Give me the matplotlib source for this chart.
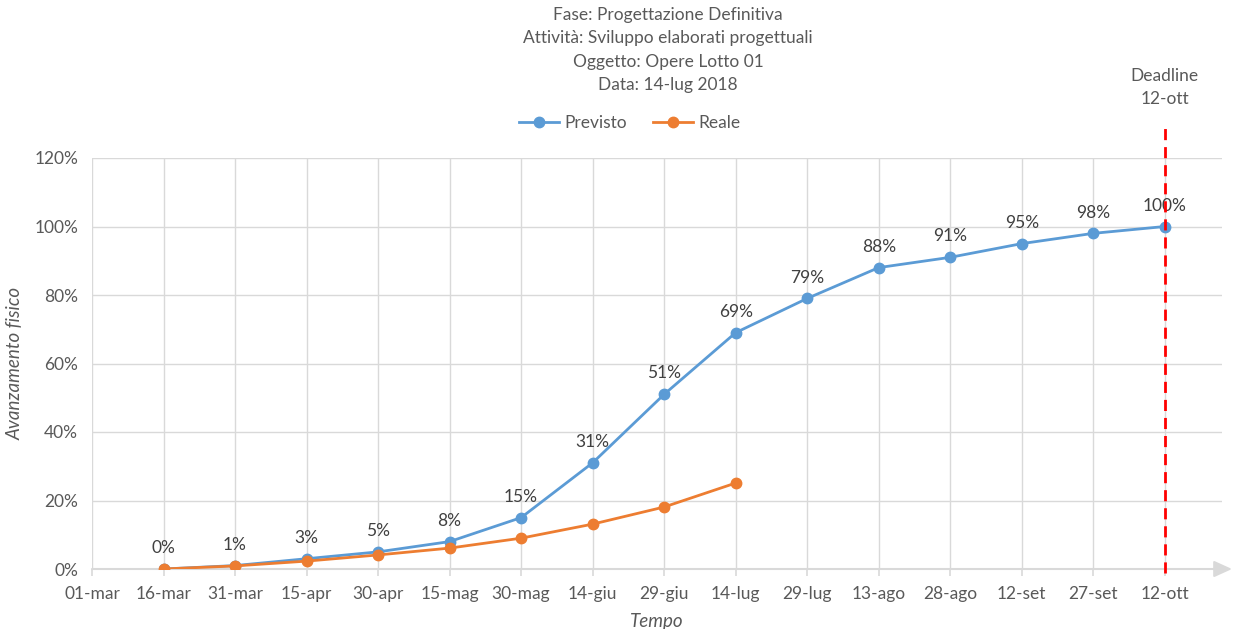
import matplotlib.pyplot as plt

dates = ["01-mar", "16-mar", "31-mar", "15-apr", "30-apr", "15-mag", "30-mag", "14-giu",
         "29-giu", "14-lug", "29-lug", "13-ago", "28-ago", "12-set", "27-set", "12-ott"]
previsto = [0, 1, 3, 5, 8, 15, 31, 51, 69, 79, 88, 91, 95, 98, 100]
reale = [0, 0.9, 2.3, 4.1, 6.1, 9, 13.1, 18.1, 25.1]
deadline = "12-ott"

plt.rcParams["font.family"] = ["Lato", "DejaVu Sans"]
txt = "#595959"
grid = "#d9d9d9"
fs = 12.5

fig = plt.figure(figsize=(12.34, 6.29), dpi=100)
ax = fig.add_axes([92 / 1234, 60 / 629, 1130 / 1234, 411 / 629])

x_prev = list(range(1, len(previsto) + 1))
x_real = list(range(1, len(reale) + 1))
ax.plot(x_prev, [v / 100 for v in previsto], color="#5B9BD5", lw=2, marker="o", ms=7.5,
        label="Previsto", zorder=3)
ax.plot(x_real, [v / 100 for v in reale], color="#ED7D31", lw=2, marker="o", ms=7.5,
        label="Reale", zorder=4)
for xi, v in zip(x_prev, previsto):
    ax.annotate(f"{v}%", (xi, v / 100), xytext=(0, 15), textcoords="offset points",
                ha="center", va="center", fontsize=fs, color="#404040", zorder=5)

dx = dates.index(deadline)
ax.plot([dx, dx], [-0.012, 1.3], color="#ff0000", lw=2, ls=(0, (4, 2.5)), clip_on=False, zorder=6)
ax.text(dx, 1.406, "Deadline\n" + deadline, ha="center", va="center", fontsize=fs,
        color=txt, linespacing=1.55)

ax.set_xlim(0, 15.8)
ax.set_ylim(0, 1.2)
ax.set_xticks(range(len(dates)))
ax.set_xticklabels(dates)
ax.set_yticks([i / 5 for i in range(7)])
ax.set_yticklabels([f"{i * 20}%" for i in range(7)])
ax.tick_params(axis="x", colors=txt, labelsize=fs, length=5, color=grid, width=1.2, pad=7)
ax.tick_params(axis="y", colors=txt, labelsize=fs, length=0, pad=10)
ax.grid(True, color=grid, lw=1)
ax.set_axisbelow(True)
for s in ["top", "right", "left", "bottom"]:
    ax.spines[s].set_visible(False)
ax.annotate("", xy=(1232 / 1234, 0), xytext=(0, 0), xycoords=("figure fraction", "data"),
            textcoords="data",
            arrowprops=dict(arrowstyle="-|>,head_length=1.1,head_width=0.5", color=grid, lw=1.5,
                            shrinkA=0, shrinkB=0), annotation_clip=False)

ax.set_ylabel("Avanzamento fisico", fontsize=13.5, style="italic", color=txt, labelpad=8)
ax.set_xlabel("Tempo", fontsize=13.5, style="italic", color=txt, labelpad=8)

fig.text(668 / 1234, 1 - 50 / 629,
         "Fase: Progettazione Definitiva\nAttività: Sviluppo elaborati progettuali\n"
         "Oggetto: Opere Lotto 01\nData: 14-lug 2018",
         ha="center", va="center", fontsize=fs, color=txt, linespacing=1.55)
fig.legend(loc="center", bbox_to_anchor=(630 / 1234, 1 - 123 / 629), ncol=2, frameon=False,
           fontsize=fs, labelcolor=txt, handlelength=2.3, columnspacing=1.5, handletextpad=0.3)

fig.savefig("out.png", dpi=100)
